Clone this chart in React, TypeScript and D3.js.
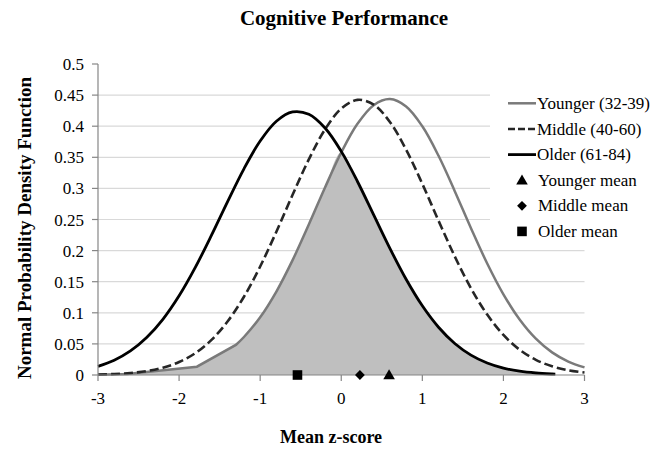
import React from "react";
import * as d3 from "d3";

const TITLE = "Cognitive Performance";
const X_TITLE = "Mean z-score";
const Y_TITLE = "Normal Probability Density Function";

const xTicks = [-3, -2, -1, 0, 1, 2, 3];
const yTicks = [0, 0.05, 0.1, 0.15, 0.2, 0.25, 0.3, 0.35, 0.4, 0.45, 0.5];
const yTickLabels = ["0", "0.05", "0.1", "0.15", "0.2", "0.25", "0.3", "0.35", "0.4", "0.45", "0.5"];
const gridValues = [0.05, 0.1, 0.15, 0.2, 0.25, 0.3, 0.35, 0.4, 0.45];

// Younger (32-39)
const youngerX = [-3, -2.64, -1.78, -1.3, -1.2, -1.0, -0.8, -0.6, -0.4, -0.2, 0, 0.2, 0.4, 0.6, 0.8, 1.0, 1.2, 1.4, 1.6, 1.8, 2.0, 2.2, 2.4, 2.6, 2.8, 3.0];
const youngerY = [0.0003, 0.0015, 0.0134, 0.0483, 0.0611, 0.0928, 0.1342, 0.1847, 0.2419, 0.3015, 0.3577, 0.4038, 0.4338, 0.4436, 0.4317, 0.3998, 0.3524, 0.2956, 0.236, 0.1793, 0.1297, 0.0892, 0.0584, 0.0364, 0.0216, 0.0122];

// Middle (40-60)
const middleX = [-3, -2.8, -2.6, -2.4, -2.2, -2.0, -1.8, -1.6, -1.4, -1.2, -1.0, -0.8, -0.6, -0.4, -0.2, 0, 0.2, 0.4, 0.6, 0.8, 1.0, 1.2, 1.4, 1.6, 1.8, 2.0, 2.2, 2.4, 2.6, 2.8, 3.0];
const middleY = [0.0007, 0.0016, 0.0032, 0.0063, 0.0117, 0.0208, 0.0351, 0.0564, 0.0863, 0.1258, 0.1744, 0.2304, 0.2897, 0.3466, 0.3949, 0.4283, 0.4423, 0.4347, 0.4068, 0.3623, 0.3073, 0.248, 0.1906, 0.1394, 0.0971, 0.0644, 0.0406, 0.0244, 0.014, 0.0076, 0.0039];

// Older (61-84)
const olderX = [-3, -2.8, -2.6, -2.4, -2.2, -2.0, -1.8, -1.6, -1.4, -1.2, -1.0, -0.8, -0.6, -0.4, -0.2, 0, 0.2, 0.4, 0.6, 0.8, 1.0, 1.2, 1.4, 1.6, 1.8, 2.0, 2.2, 2.4, 2.6, 2.64];
const olderY = [0.0139, 0.0238, 0.0387, 0.0602, 0.0895, 0.1273, 0.173, 0.2248, 0.2792, 0.3315, 0.3761, 0.4079, 0.4229, 0.4191, 0.397, 0.3595, 0.3111, 0.2574, 0.2036, 0.1539, 0.1112, 0.0768, 0.0507, 0.032, 0.0193, 0.0111, 0.0061, 0.0032, 0.0016, 0.0014];

// Group means
const meanNames = ["Younger mean", "Middle mean", "Older mean"];
const meanValues = [0.59, 0.23, -0.54];

const seriesNames = ["Younger (32-39)", "Middle (40-60)", "Older (61-84)"];

const W = 666;
const H = 449;
const FONT = "'Liberation Serif', 'Times New Roman', serif";

export default function App() {
  const x = d3.scaleLinear().domain([-3, 3]).range([98, 584.5]);
  const y = d3.scaleLinear().domain([0, 0.5]).range([375, 64]);

  const pts = (xs: number[], ys: number[]) => xs.map((v, i) => [v, ys[i]] as [number, number]);
  const younger = pts(youngerX, youngerY);
  const middle = pts(middleX, middleY);
  const older = pts(olderX, olderY);

  const lin = d3.line<[number, number]>().x((d) => x(d[0])).y((d) => y(d[1])).curve(d3.curveLinear);
  const smooth = d3.line<[number, number]>().x((d) => x(d[0])).y((d) => y(d[1])).curve(d3.curveCatmullRom.alpha(0.5));

  // Younger: straight segments up to -1.3, smooth afterwards
  const yKnee = younger.findIndex((d) => d[0] === -1.3);
  const youngerPath = (lin(younger.slice(0, yKnee + 1)) || "") + (smooth(younger.slice(yKnee)) || "").replace(/^M/, "L");
  const middlePath = smooth(middle) || "";
  const olderPath = smooth(older) || "";

  // Overlap (shaded) region: younger on the left, older on the right
  const fillLeft = younger.filter((d) => d[0] >= -2.64 && d[0] <= -1.3);
  const fillSmooth = younger.filter((d) => d[0] >= -1.3 && d[0] <= 0).concat(older.filter((d) => d[0] > 0));
  const fillStart = fillLeft[0][0];
  const fillEnd = fillSmooth[fillSmooth.length - 1][0];
  const fillPath =
    (lin(fillLeft) || "") +
    (smooth(fillSmooth) || "").replace(/^M/, "L") +
    `L${x(fillEnd)},${y(0)}L${x(fillStart)},${y(0)}Z`;

  const axisColor = "#868686";
  const gridColor = "#d9d9d9";

  const triangle = d3.symbol().type(d3.symbolTriangle).size(58)() || "";
  const square = d3.symbol().type(d3.symbolSquare).size(92)() || "";
  const diamond = d3.symbol().type(d3.symbolSquare).size(48)() || "";
  const meanShapes = [
    { d: triangle, rot: 0, dy: 1 },
    { d: diamond, rot: 45, dy: 0 },
    { d: square, rot: 0, dy: 0 },
  ];

  const legendX = 508;
  const legendRows = [103.3, 129, 154.6, 180.2, 205.8, 231.4];
  const lineStyles = [
    { stroke: "#7a7a7a", width: 2.5, dash: undefined as string | undefined },
    { stroke: "#262626", width: 2.6, dash: "7,3" },
    { stroke: "#000000", width: 2.8, dash: undefined as string | undefined },
  ];

  return (
    <svg width={W} height={H} style={{ position: "absolute", left: 0, top: 0, background: "#fff" }} fontFamily={FONT}>
      <rect x={0} y={0} width={W} height={H} fill="#fff" />
      <text x={344} y={25} textAnchor="middle" fontWeight="bold" fontSize={21}>{TITLE}</text>

      {gridValues.map((g) => (
        <line key={g} x1={x(-3)} x2={x(3)} y1={y(g)} y2={y(g)} stroke={gridColor} strokeWidth={1.2} />
      ))}

      <path d={fillPath} fill="#bfbfbf" stroke="none" />

      <path d={youngerPath} fill="none" stroke={lineStyles[0].stroke} strokeWidth={lineStyles[0].width} />
      <path d={middlePath} fill="none" stroke={lineStyles[1].stroke} strokeWidth={lineStyles[1].width} strokeDasharray="9,4" />
      <path d={olderPath} fill="none" stroke={lineStyles[2].stroke} strokeWidth={lineStyles[2].width} />

      {/* axes */}
      <line x1={x(-3)} x2={x(-3)} y1={y(0.5)} y2={y(0)} stroke={axisColor} strokeWidth={1.2} />
      <line x1={x(-3)} x2={x(3)} y1={y(0)} y2={y(0)} stroke={axisColor} strokeWidth={1.2} />
      {yTicks.map((t, i) => (
        <g key={t}>
          <line x1={x(-3) - 6} x2={x(-3)} y1={y(t)} y2={y(t)} stroke={axisColor} strokeWidth={1.2} />
          <text x={84} y={y(t) + 6} textAnchor="end" fontSize={17}>{yTickLabels[i]}</text>
        </g>
      ))}
      {xTicks.map((t) => (
        <g key={t}>
          <line x1={x(t)} x2={x(t)} y1={y(0)} y2={y(0) + 6} stroke={axisColor} strokeWidth={1.2} />
          <text x={x(t)} y={404} textAnchor="middle" fontSize={17}>{String(t)}</text>
        </g>
      ))}

      {meanValues.map((m, i) => (
        <path key={meanNames[i]} d={meanShapes[i].d} transform={`translate(${x(m)},${y(0) + meanShapes[i].dy}) rotate(${meanShapes[i].rot})`} fill="#000" />
      ))}

      <text x={331} y={443} textAnchor="middle" fontWeight="bold" fontSize={18}>{X_TITLE}</text>
      <text transform={`translate(31,228) rotate(-90)`} textAnchor="middle" fontWeight="bold" fontSize={19}>{Y_TITLE}</text>

      {/* legend */}
      <rect x={490} y={85} width={176} height={160} fill="#fff" />
      {seriesNames.map((n, i) => (
        <g key={n}>
          <line x1={legendX} x2={legendX + 28} y1={legendRows[i]} y2={legendRows[i]} stroke={lineStyles[i].stroke} strokeWidth={lineStyles[i].width} strokeDasharray={lineStyles[i].dash} />
          <text x={legendX + 29} y={legendRows[i] + 5.5} fontSize={17}>{n}</text>
        </g>
      ))}
      {meanNames.map((n, i) => (
        <g key={n}>
          <path d={meanShapes[i].d} transform={`translate(${legendX + 14},${legendRows[i + 3] + meanShapes[i].dy}) rotate(${meanShapes[i].rot})`} fill="#000" />
          <text x={legendX + 30} y={legendRows[i + 3] + 5.5} fontSize={17}>{n}</text>
        </g>
      ))}
    </svg>
  );
}
